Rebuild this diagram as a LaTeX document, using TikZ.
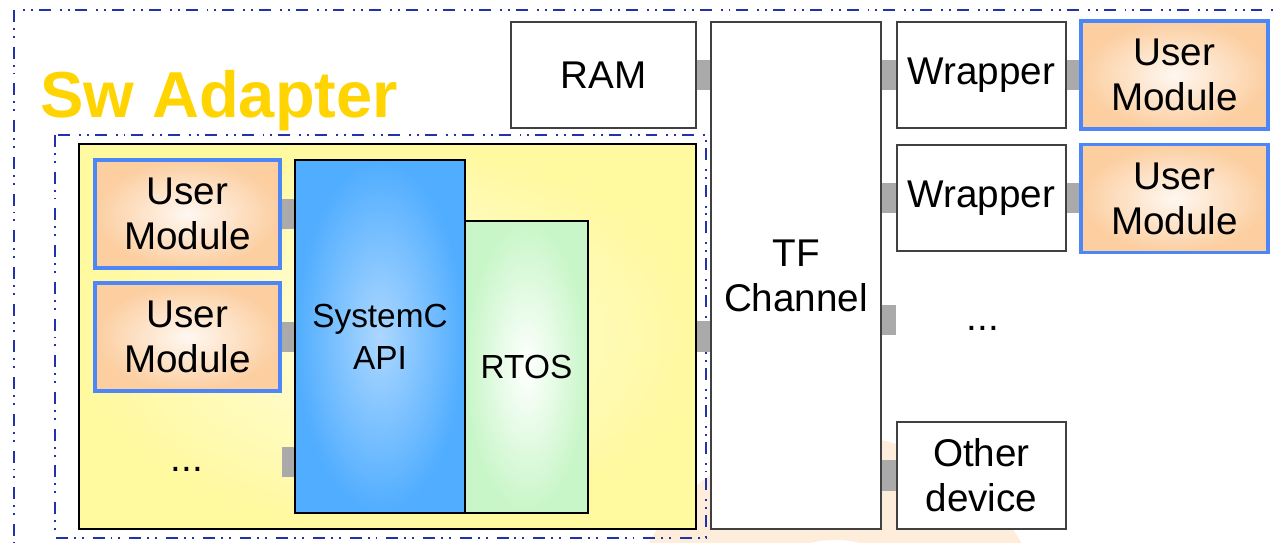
\documentclass[tikz,border=0pt]{standalone}
\usepackage{fontspec}
\setmainfont{Liberation Sans}

\definecolor{dashblue}{RGB}{35,50,170}
\definecolor{modblue}{RGB}{77,134,247}
\definecolor{peach}{RGB}{252,206,160}
\definecolor{apiblue}{RGB}{80,173,255}
\definecolor{apilight}{RGB}{172,215,255}
\definecolor{rtosgreen}{RGB}{200,246,200}
\definecolor{swyellow}{RGB}{255,249,160}
\definecolor{swgold}{RGB}{255,212,0}
\definecolor{portgray}{RGB}{170,170,170}
\definecolor{ringorange}{RGB}{253,214,175}

\tikzset{
  frame/.style={draw=dashblue, line width=1.3pt,
    dash pattern=on 6.8pt off 3.4pt on 1.1pt off 3.4pt on 1.1pt off 5.1pt},
  box/.style={draw=black!75, line width=0.8pt, fill=white, align=center,
    inner sep=0pt, font=\fontsize{22}{25.5}\selectfont},
  umod/.style={box, draw=modblue, line width=1.8pt,
    inner color=white!85!peach, outer color=peach,
    minimum width=3.7cm, minimum height=2.16cm},
  port/.style={draw=portgray, line width=17.3pt},
  dotsbox/.style={inner sep=0pt, font=\fontsize{22}{25.5}\selectfont},
}

\begin{document}
\begin{tikzpicture}[x=0.02cm, y=-0.02cm]
  \useasboundingbox (0,0) rectangle (1278,543);
  \clip (0,0) rectangle (1278,543);

  % background ring
  \fill[ringorange, opacity=0.45, even odd rule] (835,650) circle (215) (835,650) circle (110);

  \draw[frame] (14,10) rectangle (1300,560);
  \draw[frame] (55,135) rectangle (706,538);

  \node[font=\fontsize{37}{40}\selectfont\bfseries, text=swgold, anchor=base west, inner sep=0pt]
    (title) at (40,118) {Sw Adapter};

  % software side
  \node[box, draw=black, inner color=white!70!swyellow, outer color=swyellow,
    minimum width=12.34cm, minimum height=7.7cm] (sw) at (387.5,336.5) {};

  \node[umod] (um1) at (187.5,214) {User\\Module};
  \node[umod] (um2) at (187.5,337) {User\\Module};
  \node[dotsbox] (dotsL) at (187,469) {...};

  \node[box, draw=black, font=\fontsize{19}{24}\selectfont,
    inner color=apilight, outer color=apiblue,
    minimum width=3.4cm, minimum height=7.06cm] (api) at (380,336.5) {SystemC\\API};
  \node[box, draw=black, font=\fontsize{19}{24}\selectfont,
    inner color=white, outer color=rtosgreen,
    minimum width=2.46cm, minimum height=5.84cm] (rtos) at (526.5,367) {RTOS};

  % hardware side
  \node[box, minimum width=3.7cm, minimum height=2.12cm] (ram) at (603.5,75) {RAM};
  \node[box, minimum width=3.4cm, minimum height=10.14cm] (tf) at (796,275.5) {TF\\Channel};

  \node[box, minimum width=3.38cm, minimum height=2.12cm] (wr1) at (981.5,75) {Wrapper};
  \node[box, minimum width=3.38cm, minimum height=2.12cm] (wr2) at (981.5,198) {Wrapper};
  \node[dotsbox] (dotsR) at (983,328) {...};
  \node[box, minimum width=3.38cm, minimum height=2.14cm] (other) at (981.5,475.5) {Other\\device};

  \node[umod, minimum width=3.74cm] (umr1) at (1174.5,75) {User\\Module};
  \node[umod, minimum width=3.74cm] (umr2) at (1174.5,198.5) {User\\Module};

  \coordinate (pl) at (287,462);
  \coordinate (pr) at (889,320);

  % ports
  \draw[port] (um1.east) -- (um1.east -| api.west);
  \draw[port] (um2.east) -- (um2.east -| api.west);
  \draw[port] (pl -| um1.east) -- (pl -| api.west);
  \draw[port] (ram.east) -- (ram.east -| tf.west);
  \draw[port] (sw.east) -- (sw.east -| tf.west);
  \draw[port] (wr1.west -| tf.east) -- (wr1.west);
  \draw[port] (wr2.west -| tf.east) -- (wr2.west);
  \draw[port] (pr -| tf.east) -- (pr -| wr1.west);
  \draw[port] (other.west -| tf.east) -- (other.west);
  \draw[port] (wr1.east) -- (wr1.east -| umr1.west);
  \draw[port] (wr2.east) -- (wr2.east -| umr2.west);
\end{tikzpicture}
\end{document}
